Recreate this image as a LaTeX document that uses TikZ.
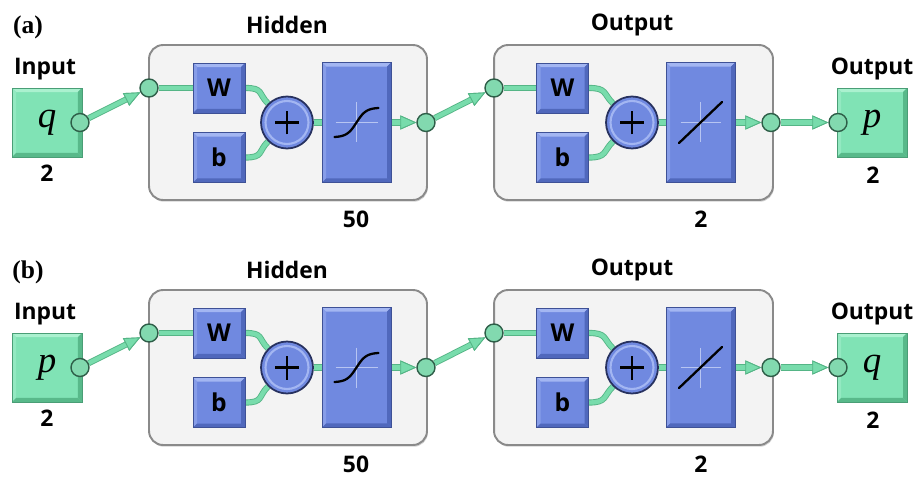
\documentclass[tikz,border=0pt]{standalone}
\usepackage{fontspec}
\newfontfamily\labfont{Open Sans}
\newfontfamily\serfont{Liberation Serif}
\usetikzlibrary{arrows.meta,shadows}
\pgfdeclarelayer{bg}
\pgfdeclarelayer{wires}
\pgfsetlayers{bg,wires,main}

\definecolor{bluemain}{HTML}{7089E0}
\definecolor{bluelight}{HTML}{A3B6F2}
\definecolor{bluedark}{HTML}{5068BC}
\definecolor{blueborder}{HTML}{3E5196}
\definecolor{greenmain}{HTML}{80E3B5}
\definecolor{greenlight}{HTML}{AAF1CF}
\definecolor{greendark}{HTML}{58B98A}
\definecolor{greenborder}{HTML}{4A9E76}
\definecolor{wirefill}{HTML}{78DCAC}
\definecolor{wireedge}{HTML}{55B586}
\definecolor{tapfill}{HTML}{82D9AF}
\definecolor{tapedge}{HTML}{2E5E48}
\definecolor{sumedge}{HTML}{27315F}
\definecolor{layerfill}{HTML}{F3F3F3}
\definecolor{layeredge}{HTML}{8A8A8A}
\definecolor{crosscol}{HTML}{B7C5F2}

\tikzset{
  lab/.style={font=\labfont\bfseries\fontsize{13}{15}\selectfont, inner sep=0pt},
  panlab/.style={font=\serfont\bfseries\fontsize{14.5}{16}\selectfont, inner sep=0pt},
  bevelbox/.style n args={4}{rectangle, inner sep=0pt, fill=#2, draw=#4, line width=0.5pt,
    path picture={
      \path (path picture bounding box.north west) coordinate (pnw)
            (path picture bounding box.north east) coordinate (pne)
            (path picture bounding box.south west) coordinate (psw)
            (path picture bounding box.south east) coordinate (pse);
      \fill[#1] (pnw) -- (pne) -- ([shift={(-0.08cm,-0.08cm)}]pne)
                -- ([shift={(0.08cm,-0.08cm)}]pnw) -- cycle;
      \fill[#1!45!#2] (pnw) -- ([shift={(0.08cm,-0.08cm)}]pnw)
                -- ([shift={(0.08cm,0.08cm)}]psw) -- (psw) -- cycle;
      \fill[#3] (psw) -- ([shift={(0.08cm,0.08cm)}]psw)
                -- ([shift={(-0.08cm,0.08cm)}]pse) -- (pse) -- cycle;
      \fill[#3] (pne) -- (pse) -- ([shift={(-0.08cm,0.08cm)}]pse)
                -- ([shift={(-0.08cm,-0.08cm)}]pne) -- cycle;
    }},
  bluebox/.style={bevelbox={bluelight}{bluemain}{bluedark}{blueborder},
    font=\labfont\bfseries\fontsize{14}{14}\selectfont,
    minimum width=1.04cm, minimum height=1.0cm},
  xferbox/.style={bevelbox={bluelight}{bluemain}{bluedark}{blueborder},
    minimum width=1.38cm, minimum height=2.4cm},
  greenbox/.style={bevelbox={greenlight}{greenmain}{greendark}{greenborder},
    font=\serfont\itshape\fontsize{21}{21}\selectfont,
    minimum width=1.4cm, minimum height=1.38cm},
  layer/.style={rectangle, rounded corners=8pt, fill=layerfill, draw=layeredge,
    line width=1.1pt, minimum height=3.1cm,
    drop shadow={shadow xshift=0.5pt, shadow yshift=-1pt, opacity=0.35}},
  tap/.style={circle, inner sep=0pt, minimum size=0.36cm, fill=tapfill,
    draw=tapedge, line width=0.8pt},
  sumnode/.style={circle, inner sep=0pt, minimum size=1.04cm, fill=bluemain,
    draw=sumedge, line width=1pt,
    path picture={
      \draw[bluelight, line width=1.2pt] (path picture bounding box.center) circle (0.43cm);
      \draw[black, line width=1.2pt]
        ([xshift=-0.24cm]path picture bounding box.center) -- ([xshift=0.24cm]path picture bounding box.center)
        ([yshift=-0.24cm]path picture bounding box.center) -- ([yshift=0.24cm]path picture bounding box.center);
    }},
  wire/.style={draw=wirefill, line width=2.5pt,
    preaction={draw=wireedge, line width=3.5pt}},
  wirearrow/.style={wire,
    -{Triangle[length=0.32cm, width=0.28cm, fill=wirefill, color=wireedge, line width=0.5pt]}},
  crossline/.style={crosscol, line width=0.9pt},
  curveline/.style={black, line width=1.3pt, line cap=round},
}

% One network diagram: #1 name prefix, #2 vertical offset (px),
% #3 panel tag, #4 input symbol, #5 output symbol
\newcommand\drawpanel[5]{%
\begin{scope}[shift={(0,#2)}]
  \node[panlab] (#1-tag) at (28,27) {#3};
  % layer frames
  \begin{pgfonlayer}{bg}
    \node[layer, minimum width=5.56cm] (#1-hid) at (288,122.5) {};
    \node[layer, minimum width=5.58cm] (#1-outl) at (633.5,122.5) {};
  \end{pgfonlayer}
  \node[lab] (#1-hidlab) at (287,25) {Hidden};
  \node[lab] (#1-outllab) at (632,25) {Output};
  \node[lab] (#1-hiddim) at (356,219) {50};
  \node[lab] (#1-outldim) at (701,219) {2};
  % input terminal
  \node[greenbox] (#1-in) at (47,122.5) {#4};
  \node[lab] (#1-inlab) at (45,69) {Input};
  \node[lab] (#1-indim) at (47,173) {2};
  \node[tap] (#1-inC) at (80,122.5) {};
  % output terminal
  \node[greenbox] (#1-out) at (872,122.5) {#5};
  \node[lab] (#1-outlab) at (872,69) {Output};
  \node[lab] (#1-outdim) at (873,175) {2};
  \node[tap] (#1-outC) at (838,122.5) {};
  % hidden layer blocks
  \node[tap] (#1-h1) at (149,88) {};
  \node[bluebox] (#1-W1) at (219,88) {W};
  \node[bluebox] (#1-b1) at (219,157.5) {b};
  \node[sumnode] (#1-S1) at (287,122.5) {};
  \node[xferbox] (#1-T1) at (356.5,122.5) {};
  \node[tap] (#1-h2) at (426,122.5) {};
  % output layer blocks
  \node[tap] (#1-o1) at (494,88) {};
  \node[bluebox] (#1-W2) at (562.5,88) {W};
  \node[bluebox] (#1-b2) at (562.5,157.5) {b};
  \node[sumnode] (#1-S2) at (632,122.5) {};
  \node[xferbox] (#1-T2) at (700.5,122.5) {};
  \node[tap] (#1-o2) at (771,122.5) {};
  % transfer function symbols
  \begin{scope}[shift={(#1-T1.center)}]
    \draw[crossline] (-21,0) -- (21,0) (0,-20) -- (0,20);
    \draw[curveline] plot[domain=-1:1, samples=30, smooth] ({22*\x},{-14.5*tanh(2.3*\x)/tanh(2.3)});
  \end{scope}
  \begin{scope}[shift={(#1-T2.center)}]
    \draw[crossline] (-20,0) -- (20,0) (0,-20) -- (0,20);
    \draw[curveline] (-21.5,20.5) -- (21.5,-20.5);
  \end{scope}
  % connections
  \begin{pgfonlayer}{wires}
    \draw[wirearrow] (#1-inC) -- (#1-h1);
    \draw[wire] (#1-h1) -- (#1-W1.west);
    \draw[wire] (#1-W1.east) .. controls +(18,0) and +(-10,-10) .. (#1-S1.135);
    \draw[wire] (#1-b1.east) .. controls +(18,0) and +(-10,10) .. (#1-S1.225);
    \draw[wire] (#1-S1) -- (#1-T1);
    \draw[wirearrow] (#1-T1) -- (#1-h2);
    \draw[wirearrow] (#1-h2) -- (#1-o1);
    \draw[wire] (#1-o1) -- (#1-W2.west);
    \draw[wire] (#1-W2.east) .. controls +(18,0) and +(-10,-10) .. (#1-S2.135);
    \draw[wire] (#1-b2.east) .. controls +(18,0) and +(-10,10) .. (#1-S2.225);
    \draw[wire] (#1-S2) -- (#1-T2);
    \draw[wirearrow] (#1-T2) -- (#1-o2);
    \draw[wirearrow] (#1-o2) -- (#1-outC);
  \end{pgfonlayer}
\end{scope}}

\begin{document}
\begin{tikzpicture}[x=0.02cm, y=-0.02cm]
  \begin{pgfonlayer}{bg}
    \fill[white] (0,0) rectangle (918,476);
  \end{pgfonlayer}
  \useasboundingbox (0,0) rectangle (918,476);
  \drawpanel{a}{0}{(a)}{q}{p}
  \drawpanel{b}{245}{(b)}{p}{q}
\end{tikzpicture}
\end{document}
